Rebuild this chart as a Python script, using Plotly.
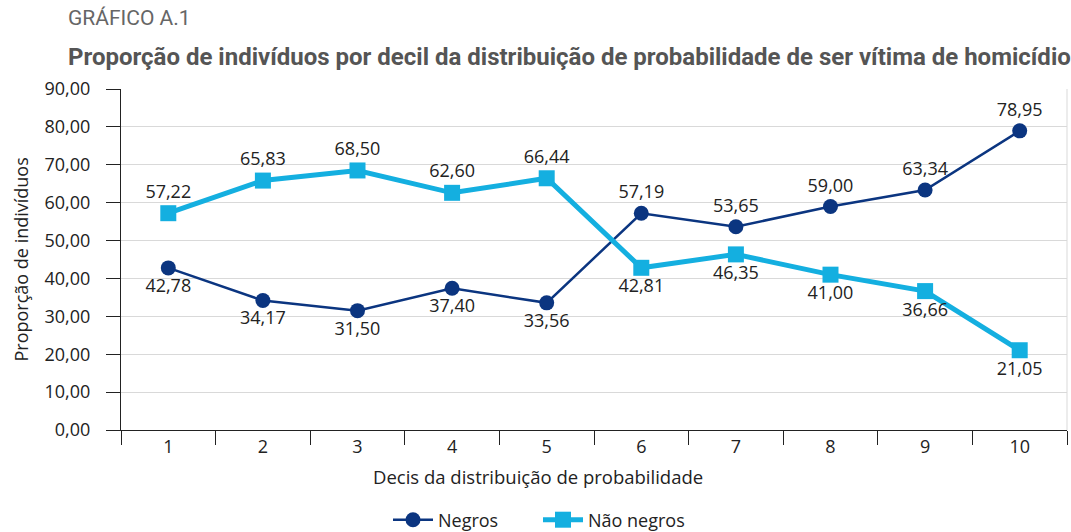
import plotly.graph_objects as go

decis = ["1", "2", "3", "4", "5", "6", "7", "8", "9", "10"]
negros = [42.78, 34.17, 31.50, 37.40, 33.56, 57.19, 53.65, 59.00, 63.34, 78.95]
nao_negros = [57.22, 65.83, 68.50, 62.60, 66.44, 42.81, 46.35, 41.00, 36.66, 21.05]
y_ticks = [0, 10, 20, 30, 40, 50, 60, 70, 80, 90]

def fmt(v):
    return f"{v:.2f}".replace(".", ",")

neg_pos = ["bottom center" if n < m else "top center" for n, m in zip(negros, nao_negros)]
nao_pos = ["top center" if m > n else "bottom center" for n, m in zip(negros, nao_negros)]

dark = "#0b3580"
light = "#14afe0"
font_main = "Open Sans"
txt = "#222222"

L, R, T, B = 121, 1067, 89, 430
W, H = R - L, B - T

def px(x):
    return (x - L) / W

def py(y):
    return (B - y) / H

fig = go.Figure()
fig.add_trace(go.Scatter(
    x=decis, y=negros, name="Negros", mode="lines+markers+text",
    line=dict(color=dark, width=2.5),
    marker=dict(symbol="circle", size=15, color=dark),
    text=[fmt(v) for v in negros], textposition=neg_pos,
    textfont=dict(family=font_main, size=18, color=txt),
    cliponaxis=False,
))
fig.add_trace(go.Scatter(
    x=decis, y=nao_negros, name="Não negros", mode="lines+markers+text",
    line=dict(color=light, width=5),
    marker=dict(symbol="square", size=16, color=light),
    text=[fmt(v) for v in nao_negros], textposition=nao_pos,
    textfont=dict(family=font_main, size=18, color=txt),
    cliponaxis=False,
))

fig.update_layout(
    width=1071, height=532,
    margin=dict(l=L, r=1071 - R, t=T, b=532 - B, autoexpand=False),
    paper_bgcolor="white", plot_bgcolor="white",
    font=dict(family=font_main, size=18, color=txt),
    separators=",.",
    showlegend=True,
    legend=dict(orientation="h", x=px(388), xanchor="left",
                y=py(520), yanchor="middle",
                font=dict(family=font_main, size=18, color=txt),
                traceorder="normal", itemwidth=40,
                entrywidth=95, entrywidthmode="pixels"),
    xaxis=dict(
        type="category", range=[-0.5, len(decis) - 0.5],
        tickson="boundaries", ticks="outside", ticklen=14,
        tickcolor=txt, tickwidth=1.2,
        showline=True, linecolor=txt, linewidth=1.2,
        showgrid=False, tickfont=dict(size=18), fixedrange=True,
    ),
    yaxis=dict(
        range=[0, 90], tickvals=y_ticks, tickformat=".2f",
        ticks="outside", ticklen=14, tickcolor=txt, tickwidth=1.2,
        ticklabelstandoff=12,
        showline=True, linecolor=txt, linewidth=1.2,
        showgrid=True, gridcolor="#d9d9d9", gridwidth=1,
        zeroline=False, tickfont=dict(size=18), fixedrange=True,
    ),
    shapes=[dict(type="line", xref="paper", yref="paper", x0=1, x1=1, y0=0, y1=1,
                 line=dict(color="#d9d9d9", width=1))],
    annotations=[
        dict(text="GRÁFICO A.1", xref="paper", yref="paper", x=px(66), y=py(18),
             xanchor="left", yanchor="middle", showarrow=False,
             font=dict(family="Roboto", size=21, color="#666666")),
        dict(text="<b>Proporção de indivíduos por decil da distribuição de probabilidade de ser vítima de homicídio</b>",
             xref="paper", yref="paper", x=px(66), y=py(57),
             xanchor="left", yanchor="middle", showarrow=False,
             font=dict(family="Roboto", size=24, color="#555555")),
        dict(text="Decis da distribuição de probabilidade", xref="paper", yref="paper",
             x=px(538), y=py(477), xanchor="center", yanchor="middle", showarrow=False,
             font=dict(family=font_main, size=18.5, color=txt)),
        dict(text="Proporção de indivíduos", xref="paper", yref="paper",
             x=px(20), y=0.5, xanchor="center", yanchor="middle", textangle=-90,
             showarrow=False, font=dict(family=font_main, size=18, color=txt)),
    ],
)

fig.write_html("out.html", config={"displayModeBar": False},
               post_script="document.body.style.margin='0';document.body.style.padding='0';")
